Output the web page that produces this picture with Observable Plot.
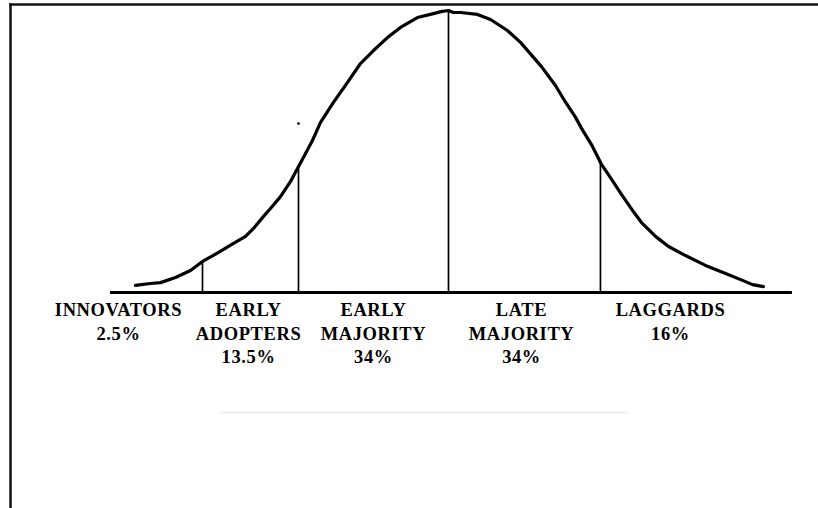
<!DOCTYPE html>
<html>
<head>
<meta charset="utf-8">
<script src="https://cdn.jsdelivr.net/npm/d3@7"></script>
<script src="https://cdn.jsdelivr.net/npm/@observablehq/plot@0.6"></script>
<style>
  html, body { margin: 0; padding: 0; background: #fff; }
  #chart svg { display: block; }
</style>
</head>
<body>
<div id="chart"></div>
<script>
// Position along the adoption axis (in standard deviations from the mean)
const curveX = [-2.087, -1.987, -1.92, -1.82, -1.72, -1.64, -1.533, -1.433, -1.353, -1.30, -1.233, -1.187, -1.12, -1.053, -1.007, -0.953, -0.907, -0.853, -0.767, -0.673, -0.587, -0.5, -0.407, -0.32, -0.207, -0.1, -0.05, 0,
                0.033, 0.08, 0.193, 0.28, 0.393, 0.48, 0.62, 0.713, 0.773, 0.847, 0.887, 0.96, 1.02, 1.093, 1.153, 1.227, 1.287, 1.38, 1.467, 1.58, 1.713, 1.847, 1.96, 2.027, 2.1];
// Relative share of adopters (peak = 1)
const curveY = [0.025, 0.032, 0.035, 0.053, 0.078, 0.110, 0.142, 0.174, 0.199, 0.227, 0.270, 0.298, 0.340, 0.394, 0.440, 0.493, 0.539, 0.603, 0.674, 0.745, 0.812, 0.858, 0.904, 0.940, 0.975, 0.989, 0.996, 1.0,
                0.993, 0.993, 0.986, 0.968, 0.929, 0.887, 0.801, 0.734, 0.681, 0.621, 0.582, 0.518, 0.454, 0.397, 0.348, 0.291, 0.248, 0.199, 0.163, 0.131, 0.096, 0.067, 0.043, 0.028, 0.021];

// Category boundaries (dividers) and where they meet the curve
const dividerX = [-1.64, -1.0, 0, 1.013];
const dividerTop = [0.110, 0.443, 1.0, 0.457];

// Category labels
const categories = ["INNOVATORS", "EARLY\nADOPTERS", "EARLY\nMAJORITY", "LATE\nMAJORITY", "LAGGARDS"];
const shares = ["2.5%", "13.5%", "34%", "34%", "16%"];
const labelX = [-2.2, -1.333, -0.5, 0.487, 1.48];

// Axis (baseline) extent
const axisStart = -2.253;
const axisEnd = 2.293;

// Faint underline and stray dot in the picture
const underline = {x1: -1.513, x2: 1.193, y: -0.4255};
const strayDot = [{x: -1.0, y: 0.599}];

const curve = curveX.map((x, i) => ({x, y: curveY[i]}));
const dividers = dividerX.map((x, i) => ({x, top: dividerTop[i]}));
const labels = categories.map((c, i) => ({x: labelX[i], text: c + "\n" + shares[i]}));

const chart = Plot.plot({
  width: 818,
  height: 508,
  marginTop: 4,
  marginLeft: 10,
  marginRight: 0,
  marginBottom: 0,
  x: {domain: [-2.92, 2.4667], axis: null},
  y: {domain: [-0.76596, 1.02128], axis: null},
  style: {background: "#fff", fontFamily: "Liberation Serif", letterSpacing: "0.6px"},
  marks: [
    Plot.frame({anchor: "top", stroke: "#111", strokeWidth: 2.5}),
    Plot.frame({anchor: "left", stroke: "#111", strokeWidth: 2.5}),
    Plot.ruleY([underline], {x1: "x1", x2: "x2", y: "y", stroke: "#e8e8e8", strokeWidth: 1.5}),
    Plot.ruleX(dividers, {x: "x", y1: 0, y2: "top", stroke: "#000", strokeWidth: 1.7}),
    Plot.ruleY([0], {x1: axisStart, x2: axisEnd, stroke: "#000", strokeWidth: 3.2}),
    Plot.line(curve, {x: "x", y: "y", stroke: "#000", strokeWidth: 3.2, strokeLinejoin: "round", strokeLinecap: "round"}),
    Plot.dot(strayDot, {x: "x", y: "y", r: 1.3, fill: "#000", stroke: null}),
    Plot.text(labels, {x: "x", y: 0, text: "text", dy: 7, lineAnchor: "top", lineHeight: 1.27, fontSize: 18.5, fontWeight: "bold", fill: "#000", fontFamily: "Liberation Serif", textAnchor: "middle"})
  ]
});
document.getElementById("chart").appendChild(chart);
</script>
</body>
</html>
